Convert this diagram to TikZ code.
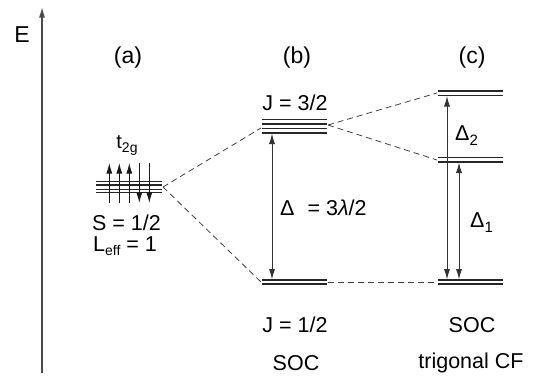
\documentclass[tikz,border=0pt]{standalone}
\usepackage{fontspec}
\setmainfont{Liberation Sans}
\usetikzlibrary{arrows.meta}
\begin{document}
\begin{tikzpicture}[x=1pt,y=-1pt,
  lvl/.style={line width=1.3pt, draw=black!85},
  dsh/.style={dash pattern=on 6pt off 4pt, line width=0.8pt, draw=black!75},
  tip/.tip={Latex[length=10.5pt,width=6pt]},
  dar/.style={tip-tip, line width=0.9pt, draw=black!80},
  spin/.style={-tip, line width=0.9pt, draw=black!90},
  lab/.style={font=\fontsize{21.5}{25}\selectfont, inner sep=0pt, anchor=base},
  big/.style={font=\fontsize{23}{27}\selectfont, inner sep=0pt, anchor=base},
]
\useasboundingbox (0,0) rectangle (536,381);
% energy axis
\coordinate (ax0) at (42,373);
\coordinate (ax1) at (42,7);
\draw[-tip, line width=1.3pt, draw=black!70] (ax0) -- (ax1);
\node[big] (E) at (22,42) {E};
\node[big] (la) at (128,63) {(a)};
\node[big] (lb) at (297,63) {(b)};
\node[big] (lc) at (472,63) {(c)};
% (a) t2g levels
\foreach \y [count=\i] in {181.7,185,189.3,192.7}{
  \coordinate (aL\i) at (96,\y);
  \coordinate (aR\i) at (162,\y);
  \draw[lvl] (aL\i) -- (aR\i);
}
\coordinate (aout) at (163,187);
\foreach \x [count=\i] in {109.3,119.3,129.3}{
  \coordinate (su\i) at (\x,203);
  \coordinate (st\i) at (\x,163);
  \draw[spin] (su\i) -- (st\i);
}
\foreach \x [count=\i] in {139.3,149.3}{
  \coordinate (sd\i) at (\x,163);
  \coordinate (se\i) at (\x,203);
  \draw[spin] (sd\i) -- (se\i);
}
\node[anchor=base, inner sep=0pt, font=\fontsize{20}{22}\selectfont] (t2g) at (127,148)
  {t\raisebox{-4.5pt}{\fontsize{14}{14}\selectfont 2g}};
\node[lab] (S) at (126.5,230) {S = 1/2};
\node[lab] (L) at (125,251) {L\raisebox{-4pt}{\fontsize{14}{14}\selectfont eff} = 1};
% (b) levels
\foreach \y [count=\i] in {119.5,124,128.5,133}{
  \coordinate (bL\i) at (262,\y);
  \coordinate (bR\i) at (327,\y);
  \draw[lvl] (bL\i) -- (bR\i);
}
\coordinate (bUin) at (261,128);
\coordinate (bUout) at (328,125);
\foreach \y [count=\i] in {280,284}{
  \coordinate (blL\i) at (262,\y);
  \coordinate (blR\i) at (327,\y);
  \draw[lvl] (blL\i) -- (blR\i);
}
\coordinate (bDin) at (261,282);
\coordinate (bDout) at (328,282);
\coordinate (bA1) at (272,133.5);
\coordinate (bA2) at (272,279.5);
\draw[dar] (bA1) -- (bA2);
\node[lab] (J32) at (295,110) {J = 3/2};
\node[lab, anchor=base west] (D) at (280,215) {Δ\hspace{13pt}= 3\textit{λ}/2};
\node[lab] (J12) at (295,332) {J = 1/2};
\node[lab] (SOCb) at (296,370) {SOC};
% (c) levels
\foreach \y [count=\i] in {91,95.5}{
  \coordinate (ctL\i) at (438,\y);
  \coordinate (ctR\i) at (503,\y);
  \draw[lvl] (ctL\i) -- (ctR\i);
}
\foreach \y [count=\i] in {157.5,162}{
  \coordinate (cmL\i) at (438,\y);
  \coordinate (cmR\i) at (503,\y);
  \draw[lvl] (cmL\i) -- (cmR\i);
}
\foreach \y [count=\i] in {280,284}{
  \coordinate (cbL\i) at (438,\y);
  \coordinate (cbR\i) at (503,\y);
  \draw[lvl] (cbL\i) -- (cbR\i);
}
\coordinate (cTin) at (437,93);
\coordinate (cMin) at (437,160);
\coordinate (cBin) at (437,282);
\coordinate (cA1) at (447,96);
\coordinate (cA2) at (447,279.5);
\coordinate (cB1) at (459,162.5);
\coordinate (cB2) at (459,279.5);
\draw[dar] (cA1) -- (cA2);
\draw[dar] (cB1) -- (cB2);
\node[lab, anchor=base west] (D2) at (455,140) {Δ\raisebox{-5pt}{\fontsize{15}{15}\selectfont 2}};
\node[lab, anchor=base west] (D1) at (470,227) {Δ\raisebox{-5pt}{\fontsize{15}{15}\selectfont 1}};
\node[lab] (SOCc) at (472,332) {SOC};
\node[lab] (tcf) at (471,368) {trigonal CF};
% dashed correlation lines
\draw[dsh] (aout) -- (bUin);
\draw[dsh] (aout) -- (bDin);
\draw[dsh] (bUout) -- (cTin);
\draw[dsh] (bUout) -- (cMin);
\draw[dsh] (bDout) -- (cBin);
\end{tikzpicture}
\end{document}
